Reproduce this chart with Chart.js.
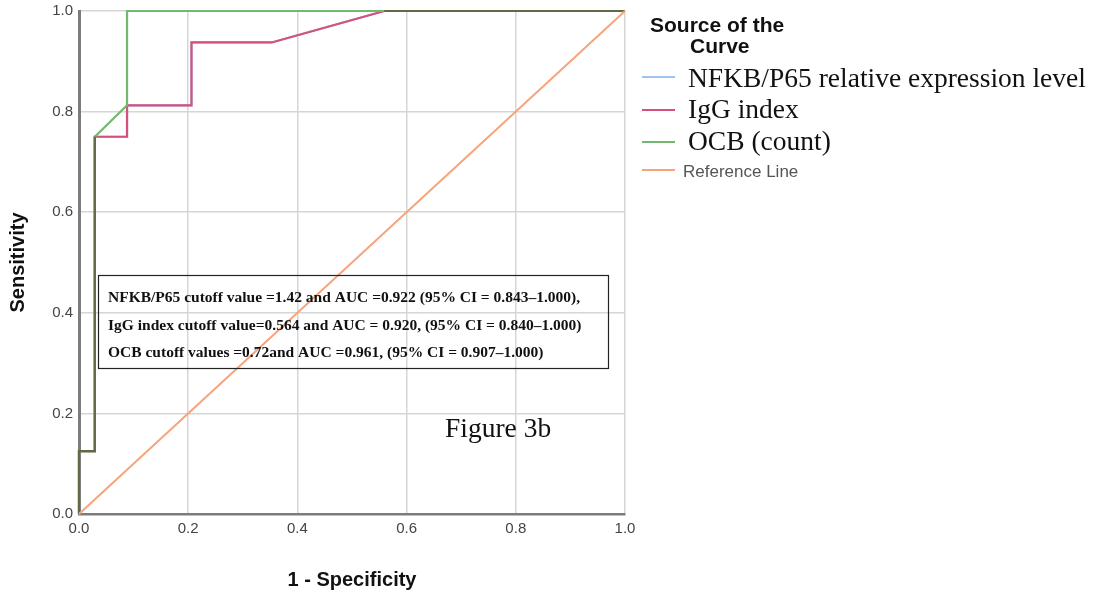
<!DOCTYPE html>
<html>
<head>
<meta charset="utf-8">
<title>Figure 3b</title>
<script src="https://cdn.jsdelivr.net/npm/chart.js@4.4.1/dist/chart.umd.min.js"></script>
<style>
	html, body { margin: 0; padding: 0; background: #fff; }
	#wrap { width: 1094px; height: 596px; }
</style>
</head>
<body>
<div id="wrap"><canvas id="roc"></canvas></div>
<script>
// --- data ---
var nfkbFpr = [0, 0, 0.029, 0.029, 0.088, 0.088, 0.206, 0.206, 0.353, 0.559, 1];
var nfkbSens = [0, 0.125, 0.125, 0.75, 0.75, 0.8125, 0.8125, 0.9375, 0.9375, 1, 1];

var iggFpr = [0, 0, 0.029, 0.029, 0.088, 0.088, 0.206, 0.206, 0.353, 0.559, 1];
var iggSens = [0, 0.125, 0.125, 0.75, 0.75, 0.8125, 0.8125, 0.9375, 0.9375, 1, 1];

var ocbFpr = [0, 0, 0.029, 0.029, 0.088, 0.088, 1];
var ocbSens = [0, 0.125, 0.125, 0.75, 0.8125, 1, 1];

// where all three curves sit on top of each other (dark in the original)
var sharedFpr = [0, 0, 0.029, 0.029, null, 0.559, 1];
var sharedSens = [0, 0.125, 0.125, 0.75, null, 1, 1];

var refFpr = [0, 1];
var refSens = [0, 1];

var axisTicks = [0, 0.2, 0.4, 0.6, 0.8, 1.0];

var legendTitle = ['Source of the', 'Curve'];
var noteLines = [
	'NFKB/P65 cutoff value =1.42 and AUC =0.922 (95% CI = 0.843\u20131.000),',
	'IgG index cutoff value=0.564 and AUC = 0.920, (95% CI = 0.840\u20131.000)',
	'OCB cutoff values =0.72and AUC =0.961, (95% CI = 0.907\u20131.000)'
];
var figureLabel = 'Figure 3b';
// --- end data ---


function toPoints(xs, ys) {
	return xs.map(function(x, i) {
		return { x: x, y: ys[i] };
	});
}

var SANS = '"Liberation Sans", Arial, sans-serif';
var SERIF = '"Liberation Serif", "Times New Roman", serif';


// --- legend on the right, drawn by hand ---
var sideLegend = {
	id: 'sideLegend',
	afterDraw: function(chart) {
		var ctx = chart.ctx;
		ctx.save();
		ctx.fillStyle = '#111';
		ctx.font = 'bold 21px ' + SANS;
		ctx.textBaseline = 'alphabetic';
		ctx.fillText(legendTitle[0], 650, 32);
		ctx.fillText(legendTitle[1], 690, 53);

		chart.data.datasets.forEach(function(ds) {
			if (!ds.legendRow) return;
			var r = ds.legendRow;
			ctx.strokeStyle = ds.borderColor;
			ctx.lineWidth = 2;
			ctx.beginPath();
			ctx.moveTo(642, r.lineY);
			ctx.lineTo(675, r.lineY);
			ctx.stroke();
			ctx.fillStyle = r.color;
			ctx.font = r.font;
			ctx.fillText(ds.label, r.textX, r.baseY);
		});
		ctx.restore();
	}
};


// --- cutoff box and figure label ---
var notes = {
	id: 'notes',
	afterDraw: function(chart) {
		var ctx = chart.ctx;
		ctx.save();
		ctx.strokeStyle = '#222';
		ctx.lineWidth = 1.2;
		ctx.strokeRect(98.5, 275.5, 510, 93);

		ctx.fillStyle = '#111';
		ctx.font = 'bold 15.5px ' + SERIF;
		ctx.textBaseline = 'alphabetic';
		var baseY = [302, 330, 357];
		noteLines.forEach(function(t, i) {
			ctx.fillText(t, 108, baseY[i]);
		});

		ctx.font = '27.5px ' + SERIF;
		ctx.fillText(figureLabel, 445, 437);
		ctx.restore();
	}
};


// --- ROC chart ---
var rocCtx = document.getElementById('roc').getContext('2d');

var rocChart = new Chart(rocCtx, {
	type: 'scatter',
	data: {
		datasets: [
			{
				label: 'Reference Line',
				data: toPoints(refFpr, refSens),
				borderColor: '#f7a47c',
				borderWidth: 2,
				order: 1,
				legendRow: { lineY: 170, baseY: 177, textX: 683, font: '17px ' + SANS, color: '#555' }
			},
			{
				label: 'shared',
				data: toPoints(sharedFpr, sharedSens),
				borderColor: '#5f6b45',
				borderWidth: 2.2,
				spanGaps: false,
				order: 2
			},
			{
				label: 'OCB (count)',
				data: toPoints(ocbFpr, ocbSens),
				borderColor: '#72b86e',
				borderWidth: 2.2,
				order: 3,
				legendRow: { lineY: 142, baseY: 150, textX: 688, font: '27.5px ' + SERIF, color: '#111' }
			},
			{
				label: 'IgG index',
				data: toPoints(iggFpr, iggSens),
				borderColor: '#d6507d',
				borderWidth: 2.2,
				order: 4,
				legendRow: { lineY: 110, baseY: 118, textX: 688, font: '27.5px ' + SERIF, color: '#111' }
			},
			{
				label: 'NFKB/P65 relative expression level',
				data: toPoints(nfkbFpr, nfkbSens),
				borderColor: '#9fc3ec',
				borderWidth: 2.2,
				order: 5,
				legendRow: { lineY: 77, baseY: 87, textX: 688, font: '27.5px ' + SERIF, color: '#111' }
			}
		]
	},
	options: {
		responsive: true,
		maintainAspectRatio: false,
		animation: false,
		showLine: true,
		clip: false,
		elements: {
			point: { radius: 0, hoverRadius: 0 },
			line: { tension: 0, fill: false }
		},
		layout: {
			padding: { top: 11, right: 469, bottom: 0, left: 0 }
		},
		plugins: {
			legend: { display: false },
			tooltip: { enabled: false }
		},
		scales: {
			x: {
				type: 'linear',
				min: 0,
				max: 1,
				afterBuildTicks: function(scale) {
					scale.ticks = axisTicks.map(function(v) { return { value: v }; });
				},
				afterFit: function(scale) {
					scale.height = 82;
					scale.paddingRight = 0;
				},
				grid: { color: '#d6d6d6', lineWidth: 1.5, drawTicks: false },
				border: { color: '#7c7c7c', width: 2.5 },
				ticks: {
					padding: 6,
					color: '#444',
					font: { family: SANS, size: 15 },
					callback: function(v) { return v.toFixed(1); }
				},
				title: {
					display: true,
					text: '1 - Specificity',
					color: '#111',
					font: { family: SANS, size: 20, weight: 'bold' },
					padding: { top: 0, bottom: 4 }
				}
			},
			y: {
				type: 'linear',
				min: 0,
				max: 1,
				afterBuildTicks: function(scale) {
					scale.ticks = axisTicks.map(function(v) { return { value: v }; });
				},
				afterFit: function(scale) {
					scale.width = 79;
					scale.paddingTop = 0;
					scale.paddingBottom = 0;
				},
				grid: { color: '#d6d6d6', lineWidth: 1.5, drawTicks: false },
				border: { color: '#7c7c7c', width: 3 },
				ticks: {
					padding: 6,
					color: '#444',
					font: { family: SANS, size: 15 },
					callback: function(v) { return v.toFixed(1); }
				},
				title: {
					display: true,
					text: 'Sensitivity',
					color: '#111',
					font: { family: SANS, size: 20, weight: 'bold' },
					padding: { top: 6, bottom: 0 }
				}
			}
		}
	},
	plugins: [sideLegend, notes]
});
// --- end ROC chart ---
</script>
</body>
</html>
